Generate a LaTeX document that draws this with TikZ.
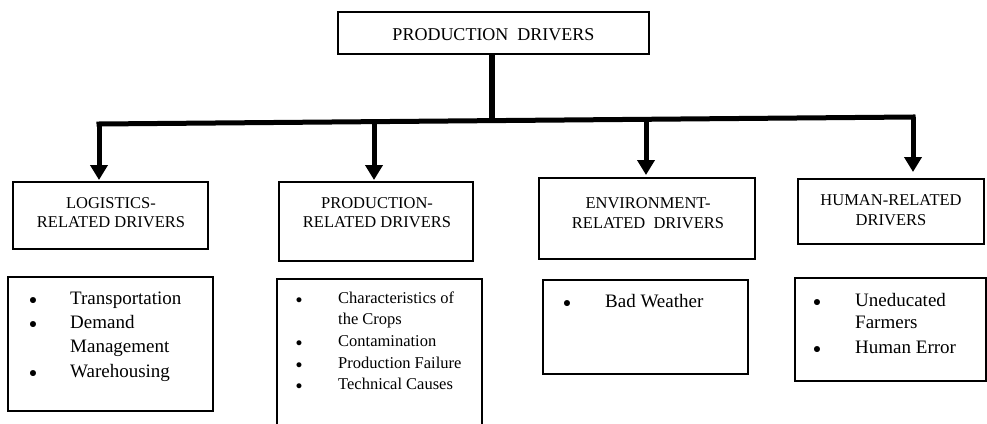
\documentclass[tikz,border=0pt]{standalone}
\usepackage{fontspec}
\setmainfont{Liberation Serif}
\usetikzlibrary{arrows.meta}
\begin{document}
\begin{tikzpicture}[x=1pt,y=-1pt,
  box/.style={draw, line width=1.8pt, inner sep=0pt, outer sep=0pt, anchor=north west},
  hdr/.style={anchor=base, inner sep=0pt, font=\fontsize{16.5}{19}\selectfont},
  itm/.style={anchor=base west, inner sep=0pt},
  bul/.style={anchor=base, inner sep=0pt, font=\fontsize{14}{14}\selectfont},
  bulsmall/.style={anchor=base, inner sep=0pt, font=\fontsize{11.5}{12}\selectfont},
  big/.style={font=\fontsize{19}{24}\selectfont},
  small/.style={font=\fontsize{16.5}{20}\selectfont},
  bus/.style={line width=5pt, line cap=rect},
  arr/.style={line width=5pt, -{Triangle[width=17pt,length=15pt]}}]
\useasboundingbox (0,0) rectangle (987,423);
\clip (0,0) rectangle (987,423);
\fill[white] (0,0) rectangle (987,423);

% boxes
\node[box, minimum width=311pt, minimum height=42pt] (top) at (338,12) {};
\node[box, minimum width=195pt, minimum height=67pt] (L1) at (13,182) {};
\node[box, minimum width=194pt, minimum height=79pt] (P1) at (279,182) {};
\node[box, minimum width=216pt, minimum height=81pt] (E1) at (539,178) {};
\node[box, minimum width=186pt, minimum height=65pt] (H1) at (798,179) {};
\node[box, minimum width=205pt, minimum height=134pt] (L2) at (8,277) {};
\node[box, minimum width=205pt, minimum height=160pt] (P2) at (277,279) {};
\node[box, minimum width=205pt, minimum height=94pt] (E2) at (543,280) {};
\node[box, minimum width=191pt, minimum height=103pt] (H2) at (795,278) {};

% title and headers
\node[anchor=base, inner sep=0pt, font=\fontsize{18}{20}\selectfont] (tt) at (493.5,40) {PRODUCTION\ \ DRIVERS};
\node[hdr] (l1a) at (111,208) {LOGISTICS-};
\node[hdr] (l1b) at (111,227) {RELATED DRIVERS};
\node[hdr] (p1a) at (377,208) {PRODUCTION-};
\node[hdr] (p1b) at (377,227) {RELATED DRIVERS};
\node[hdr] (e1a) at (648,208) {ENVIRONMENT-};
\node[hdr] (e1b) at (648,228) {RELATED\ \ DRIVERS};
\node[hdr] (h1a) at (891,205) {HUMAN-RELATED};
\node[hdr] (h1b) at (891,225) {DRIVERS};

% connectors
\coordinate (j) at (492,120.6);
\coordinate (a1) at (99,124);
\coordinate (a2) at (374,122.6);
\coordinate (a3) at (646,118.8);
\coordinate (a4) at (913,117);
\draw[line width=6pt] (top.south -| j) -- (j);
\draw[bus] (a1) -- (a4);
\draw[arr, shorten >=2pt] (a1) -- (a1 |- L1.north);
\draw[arr, shorten >=2pt] (a2) -- (a2 |- P1.north);
\draw[arr, shorten >=3pt] (a3) -- (a3 |- E1.north);
\draw[arr, shorten >=7pt] (a4) -- (a4 |- H1.north);

% logistics list
\begin{scope}[every node/.append style={big}]
\node[bul] (lb1) at (33,304) {●};
\node[itm] (lt1) at (70,304) {Transportation};
\node[bul] (lb2) at (33,328) {●};
\node[itm] (lt2) at (70,328) {Demand};
\node[itm] (lt3) at (70,352) {Management};
\node[bul] (lb3) at (33,377) {●};
\node[itm] (lt4) at (70,377) {Warehousing};
\end{scope}

% production list
\begin{scope}[every node/.append style={small}]
\node[bulsmall] (pb1) at (299,303) {●};
\node[itm] (pt1) at (338,303) {Characteristics of};
\node[itm] (pt2) at (338,324) {the Crops};
\node[bulsmall] (pb2) at (299,346) {●};
\node[itm] (pt3) at (338,346) {Contamination};
\node[bulsmall] (pb3) at (299,368) {●};
\node[itm] (pt4) at (338,368) {Production Failure};
\node[bulsmall] (pb4) at (299,389) {●};
\node[itm] (pt5) at (338,389) {Technical Causes};
\end{scope}

% environment list
\begin{scope}[every node/.append style={big}]
\node[bul] (eb1) at (567,307) {●};
\node[itm] (et1) at (605,307) {Bad Weather};
\end{scope}

% human list
\begin{scope}[every node/.append style={big}]
\node[bul] (hb1) at (817,306) {●};
\node[itm] (ht1) at (855,306) {Uneducated};
\node[itm] (ht2) at (855,328) {Farmers};
\node[bul] (hb2) at (817,353) {●};
\node[itm] (ht3) at (855,353) {Human Error};
\end{scope}
\end{tikzpicture}
\end{document}
